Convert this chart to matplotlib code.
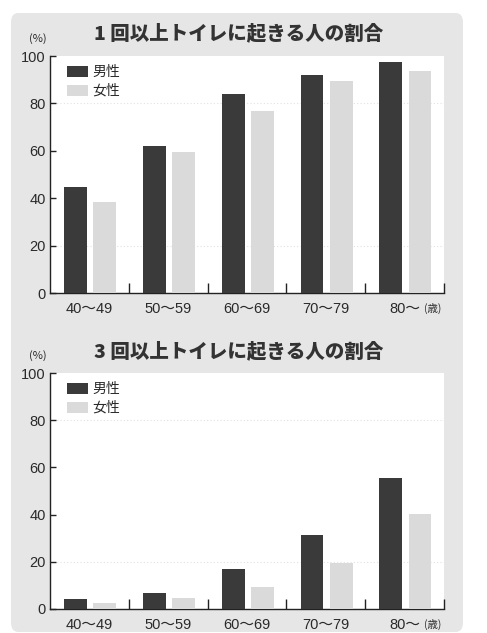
import matplotlib
matplotlib.use("Agg")
import matplotlib.pyplot as plt
from matplotlib.patches import FancyBboxPatch, Rectangle
from matplotlib import font_manager

# ---- data ----
categories = ["40～49", "50～59", "60～69", "70～79", "80～"]
series_names = ["男性", "女性"]
top_title = "1 回以上トイレに起きる人の割合"
bottom_title = "3 回以上トイレに起きる人の割合"
top_male = [44.8, 62.1, 83.9, 91.8, 97.5]
top_female = [38.2, 59.6, 76.9, 89.3, 93.7]
bottom_male = [4.4, 6.6, 17.0, 31.3, 55.5]
bottom_female = [2.7, 4.5, 9.2, 19.3, 40.4]
y_ticks = [0, 20, 40, 60, 80, 100]

avail = {f.name for f in font_manager.fontManager.ttflist}
num_font = "Liberation Sans Narrow" if "Liberation Sans Narrow" in avail else "Liberation Sans"
FAM = [num_font, "Noto Sans CJK JP", "DejaVu Sans"]
CJK = ["Noto Sans CJK JP", "DejaVu Sans"]
plt.rcParams["font.family"] = FAM

DARK = "#3a3a3a"
LIGHT = "#dadada"
BG = "#e6e6e6"
TXT = "#2a2a2a"

W, H = 487, 633
fig = plt.figure(figsize=(W / 100, H / 100), dpi=100)
fig.patch.set_facecolor("white")

bg = FancyBboxPatch((11 / W, 1 - 632 / H), (463 - 11) / W, (632 - 13) / H,
                    boxstyle="round,pad=0,rounding_size=0.015",
                    transform=fig.transFigure, facecolor=BG, edgecolor="none", zorder=-5)
fig.patches.append(bg)


def make_panel(rect, male, female, title, title_y, pct_y, leg_y):
    ax = fig.add_axes(rect)
    ax.set_zorder(1)
    ax.set_facecolor("white")
    x = list(range(len(categories)))
    w = 0.29
    ax.bar([i - 0.175 for i in x], male, width=w, color=DARK, zorder=3)
    ax.bar([i + 0.195 for i in x], female, width=w, color=LIGHT, zorder=3)
    ax.set_xlim(-0.5, len(categories) - 0.5)
    ax.set_ylim(0, 100)
    for gy in (20, 80):
        ax.axhline(gy, color="#e2e2e2", lw=0.8, ls=(0, (1, 2)), zorder=1)
    for s in ("top", "right"):
        ax.spines[s].set_visible(False)
    for s in ("left", "bottom"):
        ax.spines[s].set_color("#222222")
        ax.spines[s].set_linewidth(1.0)
    ax.set_yticks(y_ticks)
    ax.set_yticklabels([str(v) for v in y_ticks], fontsize=10.5, color=TXT)
    ax.tick_params(axis="y", direction="in", length=4, width=1, color="#222222", pad=3)
    ax.set_xticks([i + 0.5 for i in x])
    ax.set_xticklabels([])
    ax.tick_params(axis="x", direction="in", length=7, width=1, color="#222222")
    for i, c in enumerate(categories):
        ax.text(i, -4, c, ha="center", va="top", fontsize=10.5, color=TXT,
                family=FAM, clip_on=False)
    ax.text(4.47, -4.3, "(歳)", ha="right", va="top", fontsize=7.5, color=TXT,
            family=CJK, clip_on=False)
    fig.text(239 / W, 1 - title_y / H, title, ha="center", va="center",
             fontsize=14, fontweight="heavy", color="#333333", family=CJK)
    fig.text(38 / W, 1 - pct_y / H, "(%)", ha="center", va="center",
             fontsize=8, color=TXT, family=CJK)
    for k, (name, col) in enumerate(zip(series_names, [DARK, LIGHT])):
        yy = leg_y + k * 19
        fig.patches.append(Rectangle((67 / W, 1 - (yy + 11) / H), 21 / W, 11 / H,
                                     transform=fig.transFigure, facecolor=col,
                                     edgecolor="none", zorder=5))
        fig.text(92 / W, 1 - (yy + 5.5) / H, name, ha="left", va="center",
                 fontsize=10, color=TXT, family=CJK, zorder=6)
    return ax


make_panel([50 / W, 1 - 293 / H, (444 - 50) / W, (293 - 56) / H],
           top_male, top_female, top_title, 33, 39, 66)
make_panel([50 / W, 1 - 609 / H, (444 - 50) / W, (609 - 373) / H],
           bottom_male, bottom_female, bottom_title, 351, 356, 383)

fig.savefig("out.png", dpi=100, facecolor="white")
